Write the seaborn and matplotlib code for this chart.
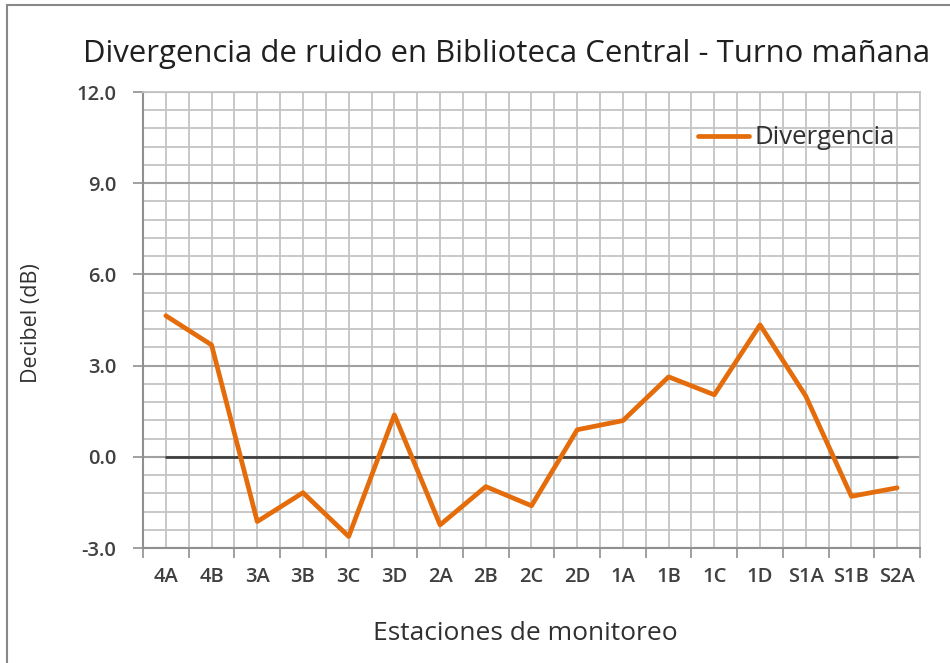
import matplotlib
matplotlib.use("Agg")
import matplotlib.pyplot as plt
import seaborn as sns
import numpy as np
import pandas as pd
from matplotlib.patches import Rectangle

stations = ["4A", "4B", "3A", "3B", "3C", "3D", "2A", "2B", "2C", "2D",
            "1A", "1B", "1C", "1D", "S1A", "S1B", "S2A"]
divergence = [4.64, 3.68, -2.13, -1.18, -2.62, 1.38, -2.24, -0.98, -1.61, 0.89,
              1.19, 2.63, 2.04, 4.34, 2.00, -1.30, -1.02]
reference = [0.0] * len(stations)
y_ticks = [-3.0, 0.0, 3.0, 6.0, 9.0, 12.0]

sns.set_theme(style="white")
plt.rcParams["font.family"] = ["Open Sans", "DejaVu Sans"]

fig = plt.figure(figsize=(9.5, 6.63), dpi=100)
ax = fig.add_axes([143/950, 1-548/663, (920-143)/950, (548-92)/663])

pos = list(range(len(stations)))
df = pd.DataFrame({"pos": pos, "Divergencia": divergence, "ref": reference})

sns.lineplot(data=df, x="pos", y="ref", ax=ax, color="#404040", lw=2.0,
             label="_nolegend_", zorder=3)
sns.lineplot(data=df, x="pos", y="Divergencia", ax=ax, color="#E46C0A", lw=3.4,
             label="Divergencia", zorder=4, sort=False)

ax.set_xlim(-0.5, len(stations) - 0.5)
ax.set_ylim(min(y_ticks), max(y_ticks))

bounds = np.arange(-0.5, len(stations), 1.0)
ax.set_xticks(bounds)
ax.set_xticklabels([""] * len(bounds))
ax.set_xticks(pos, minor=True)
ax.set_xticklabels(stations, minor=True, fontweight="semibold")
ax.set_yticks(y_ticks)
ax.set_yticklabels([f"{v:.1f}" for v in y_ticks], fontweight="semibold")
ax.set_yticks(np.arange(-3.0, 12.01, 0.6), minor=True)

ax.tick_params(axis="x", which="major", length=7, width=1.2, color="#909090", direction="out", bottom=True)
ax.tick_params(axis="x", which="minor", length=0, labelsize=14.5, labelcolor="#404040", pad=14)
ax.tick_params(axis="y", which="major", length=7, width=1.2, color="#909090", direction="out", left=True,
               labelsize=14.5, labelcolor="#404040", pad=12)
ax.tick_params(axis="y", which="minor", length=0)

ax.grid(True, which="both", axis="x", color="#C4C4C4", lw=1.3)
ax.grid(True, which="minor", axis="y", color="#C4C4C4", lw=1.3)
ax.grid(True, which="major", axis="y", color="#A0A0A0", lw=1.5)
ax.set_axisbelow(True)

for s in ["top", "right"]:
    ax.spines[s].set_color("#C4C4C4")
    ax.spines[s].set_linewidth(1.3)
for s in ["left", "bottom"]:
    ax.spines[s].set_color("#909090")
    ax.spines[s].set_linewidth(1.5)

ax.set_xlabel("Estaciones de monitoreo", fontsize=19, color="#303030", va="center")
ax.set_ylabel("Decibel (dB)", fontsize=15.5, color="#303030", va="center")
ax.xaxis.set_label_coords((525-143)/777, (548-634)/456)
ax.yaxis.set_label_coords((31-143)/777, (548-323)/456)

fig.text(507/950, 1-54/663, "Divergencia de ruido en Biblioteca Central - Turno mañana",
         ha="center", va="center", fontsize=22.4, color="#202020")

leg = ax.legend(loc="center right", bbox_to_anchor=((895-143)/777, (548-138)/456), frameon=False,
                fontsize=18.5, handlelength=2.0, handletextpad=0.2, borderaxespad=0, borderpad=0)
for t in leg.get_texts():
    t.set_color("#303030")

fig.patches.append(Rectangle((7/950, -0.05), 1.2, 1-5/663 + 0.05, transform=fig.transFigure,
                             fill=False, edgecolor="#888888", lw=1.5))

fig.savefig("out.png", dpi=100)
